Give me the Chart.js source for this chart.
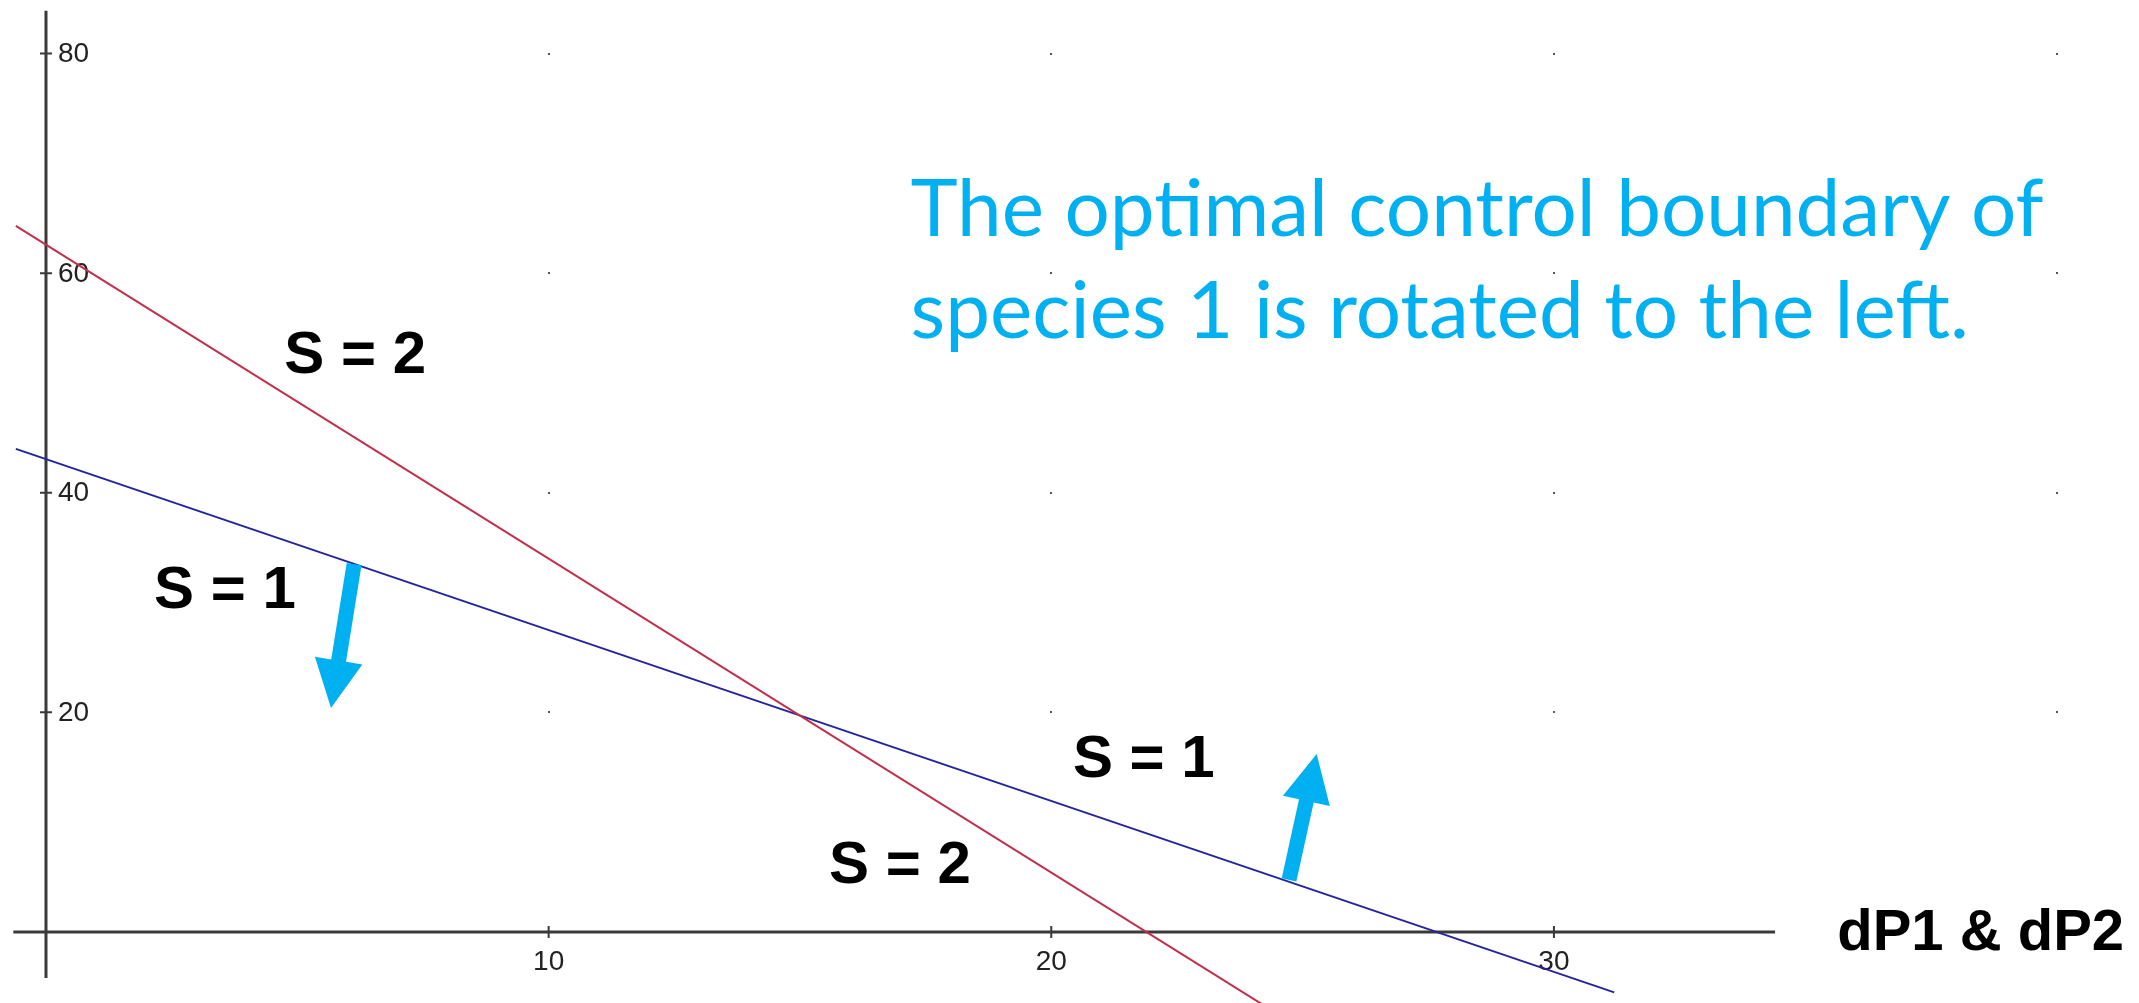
<!DOCTYPE html>
<html>
<head>
<meta charset="utf-8">
<script src="https://cdn.jsdelivr.net/npm/chart.js@4/dist/chart.umd.min.js"></script>
<style>
  html, body { margin: 0; padding: 0; background: #fff; }
  #wrap { width: 2139px; height: 1003px; position: relative; }
</style>
</head>
<body>
<div id="wrap"><canvas id="chart"></canvas></div>
<script>
// Werte
const redX = [-0.6, 24.2];
const redY = [64.3, -6.6];
const blueX = [-0.6, 31.2];
const blueY = [44.0, -5.5];

const xTicks = [10, 20, 30];
const yTicks = [20, 40, 60, 80];
const gridX = [10, 20, 30, 40];
const gridY = [20, 40, 60, 80];

// sichtbare Achsenstuecke
const xAxisRange = [-0.65, 34.4];
const yAxisRange = [-4.2, 83.9];

const labelTexts = ['S = 2', 'S = 1', 'S = 1', 'S = 2'];
const axisTitle = 'dP1 & dP2';
const titleLines = ['The optimal control boundary of', 'species 1 is rotated to the left.'];

// Beschriftungen (Datenkoordinaten, Grundlinie)
const labelPos = [[6.15, 50.9], [3.56, 29.5], [21.84, 14.1], [16.99, 4.46]];
const axisTitlePos = [38.49, -1.64];
const titlePos = [17.2, 63.4, 54.1];
const arrows = [
  { from: [6.13, 33.5], to: [5.67, 20.4] },
  { from: [24.73, 4.74], to: [25.28, 16.2] }
];

const cyan = '#00B0F0';

function toPts(xs, ys) {
  return xs.map((x, i) => ({ x: x, y: ys[i] }));
}

function drawArrow(ctx, x1, y1, x2, y2) {
  const dx = x2 - x1, dy = y2 - y1;
  const len = Math.hypot(dx, dy);
  const ux = dx / len, uy = dy / len;
  const nx = -uy, ny = ux;
  const headLen = 48, headW = 24, shaftW = 7.5;
  const bx = x2 - ux * headLen, by = y2 - uy * headLen;
  ctx.beginPath();
  ctx.moveTo(x1 + nx * shaftW, y1 + ny * shaftW);
  ctx.lineTo(bx + nx * shaftW, by + ny * shaftW);
  ctx.lineTo(bx + nx * headW, by + ny * headW);
  ctx.lineTo(x2, y2);
  ctx.lineTo(bx - nx * headW, by - ny * headW);
  ctx.lineTo(bx - nx * shaftW, by - ny * shaftW);
  ctx.lineTo(x1 - nx * shaftW, y1 - ny * shaftW);
  ctx.closePath();
  ctx.fillStyle = cyan;
  ctx.fill();
}

const axesPlugin = {
  id: 'axesPlugin',
  beforeDatasetsDraw(chart) {
    const ctx = chart.ctx;
    const sx = chart.scales.x, sy = chart.scales.y;
    const x0 = sx.getPixelForValue(0), y0 = sy.getPixelForValue(0);
    ctx.save();
    // Punktraster
    ctx.fillStyle = '#555';
    gridX.forEach(gx => {
      gridY.forEach(gy => {
        ctx.fillRect(Math.round(sx.getPixelForValue(gx)) - 1, Math.round(sy.getPixelForValue(gy)) - 1, 2, 2);
      });
    });
    // Achsen
    ctx.strokeStyle = '#3a3a3a';
    ctx.lineWidth = 3;
    ctx.beginPath();
    ctx.moveTo(sx.getPixelForValue(xAxisRange[0]), y0);
    ctx.lineTo(sx.getPixelForValue(xAxisRange[1]), y0);
    ctx.moveTo(x0, sy.getPixelForValue(yAxisRange[0]));
    ctx.lineTo(x0, sy.getPixelForValue(yAxisRange[1]));
    ctx.stroke();
    // Ticks
    ctx.lineWidth = 2;
    ctx.beginPath();
    xTicks.forEach(t => {
      const px = sx.getPixelForValue(t);
      ctx.moveTo(px, y0 - 6);
      ctx.lineTo(px, y0 + 6);
    });
    yTicks.forEach(t => {
      const py = sy.getPixelForValue(t);
      ctx.moveTo(x0 - 6, py);
      ctx.lineTo(x0 + 6, py);
    });
    ctx.stroke();
    ctx.fillStyle = '#222';
    ctx.font = '28px "Liberation Sans", Arial, sans-serif';
    ctx.textAlign = 'center';
    ctx.textBaseline = 'middle';
    xTicks.forEach(t => {
      ctx.fillText(String(t), sx.getPixelForValue(t), y0 + 30);
    });
    ctx.textAlign = 'left';
    yTicks.forEach(t => {
      ctx.fillText(String(t), x0 + 12, sy.getPixelForValue(t) + 1);
    });
    ctx.restore();
  },
  afterDatasetsDraw(chart) {
    const ctx = chart.ctx;
    const sx = chart.scales.x, sy = chart.scales.y;
    ctx.save();
    arrows.forEach(a => {
      drawArrow(ctx, sx.getPixelForValue(a.from[0]), sy.getPixelForValue(a.from[1]),
        sx.getPixelForValue(a.to[0]), sy.getPixelForValue(a.to[1]));
    });
    ctx.fillStyle = '#000';
    ctx.textAlign = 'center';
    ctx.textBaseline = 'alphabetic';
    ctx.font = 'bold 60px "Liberation Sans", Arial, sans-serif';
    labelTexts.forEach((t, i) => {
      ctx.fillText(t, sx.getPixelForValue(labelPos[i][0]), sy.getPixelForValue(labelPos[i][1]));
    });
    ctx.font = 'bold 58px "Liberation Sans", Arial, sans-serif';
    ctx.fillText(axisTitle, sx.getPixelForValue(axisTitlePos[0]), sy.getPixelForValue(axisTitlePos[1]));
    ctx.fillStyle = cyan;
    ctx.textAlign = 'left';
    ctx.font = '80px Lato, "Open Sans", sans-serif';
    ctx.fillText(titleLines[0], sx.getPixelForValue(titlePos[0]), sy.getPixelForValue(titlePos[1]));
    ctx.fillText(titleLines[1], sx.getPixelForValue(titlePos[0]), sy.getPixelForValue(titlePos[2]));
    ctx.restore();
  }
};

const ctx = document.getElementById('chart').getContext('2d');
const chart = new Chart(ctx, {
  type: 'scatter',
  data: {
    datasets: [
      {
        label: 'S1',
        data: toPts(redX, redY),
        showLine: true,
        borderColor: '#c0304a',
        borderWidth: 2,
        pointRadius: 0
      },
      {
        label: 'S2',
        data: toPts(blueX, blueY),
        showLine: true,
        borderColor: '#2424a0',
        borderWidth: 2,
        pointRadius: 0
      }
    ]
  },
  options: {
    responsive: true,
    maintainAspectRatio: false,
    animation: false,
    layout: { padding: 0 },
    scales: {
      x: { type: 'linear', min: -0.915, max: 41.64, display: false },
      y: { type: 'linear', min: -6.47, max: 84.88, display: false }
    },
    plugins: {
      legend: { display: false },
      tooltip: { enabled: false }
    }
  },
  plugins: [axesPlugin]
});
</script>
</body>
</html>
